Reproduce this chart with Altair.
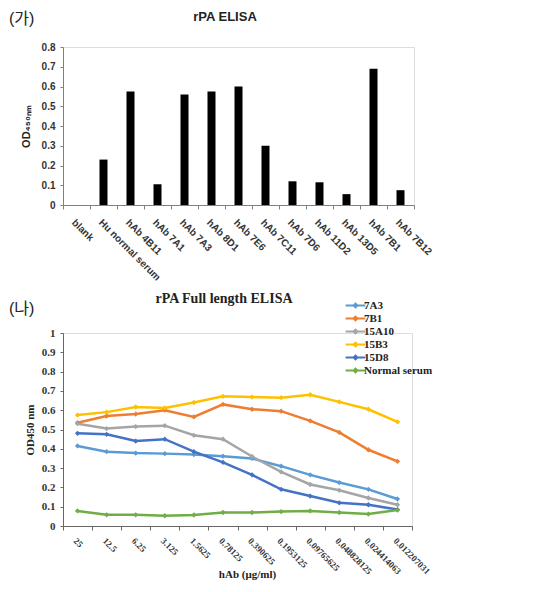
import altair as alt
import pandas as pd

# ---------------- data ----------------
bar_categories = ["blank", "Hu normal serum", "hAb 4B11", "hAb 7A1", "hAb 7A3", "hAb 8D1",
                  "hAb 7E6", "hAb 7C11", "hAb 7D6", "hAb 11D2", "hAb 13D5", "hAb 7B1", "hAb 7B12"]
bar_values = [0.0, 0.23, 0.575, 0.105, 0.56, 0.575, 0.60, 0.30, 0.12, 0.115, 0.055, 0.69, 0.075]

doses = ["25", "12.5", "6.25", "3.125", "1.5625", "0.78125", "0.390625", "0.1953125",
         "0.09765625", "0.048828125", "0.024414063", "0.012207031"]
series_names = ["7A3", "7B1", "15A10", "15B3", "15D8", "Normal serum"]
series_colors = ["#5B9BD5", "#ED7D31", "#A5A5A5", "#FFC000", "#4472C4", "#70AD47"]
s_7A3 = [0.415, 0.385, 0.378, 0.375, 0.37, 0.362, 0.35, 0.31, 0.265, 0.225, 0.19, 0.14]
s_7B1 = [0.535, 0.57, 0.58, 0.60, 0.565, 0.63, 0.605, 0.595, 0.545, 0.485, 0.395, 0.335]
s_15A10 = [0.53, 0.505, 0.515, 0.52, 0.47, 0.45, 0.36, 0.28, 0.215, 0.185, 0.145, 0.11]
s_15B3 = [0.575, 0.59, 0.617, 0.612, 0.64, 0.672, 0.668, 0.665, 0.68, 0.643, 0.605, 0.54]
s_15D8 = [0.48, 0.475, 0.44, 0.45, 0.385, 0.33, 0.265, 0.19, 0.155, 0.12, 0.11, 0.085]
s_normal = [0.078, 0.058, 0.058, 0.053, 0.057, 0.07, 0.07, 0.075, 0.078, 0.07, 0.062, 0.083]

y1_ticks = [0, 0.1, 0.2, 0.3, 0.4, 0.5, 0.6, 0.7, 0.8]
y2_ticks = [0, 0.1, 0.2, 0.3, 0.4, 0.5, 0.6, 0.7, 0.8, 0.9, 1.0]

df1 = pd.DataFrame({"cat": bar_categories, "val": bar_values})
rows = []
for name, vals in zip(series_names, [s_7A3, s_7B1, s_15A10, s_15B3, s_15D8, s_normal]):
    for d, v in zip(doses, vals):
        rows.append({"series": name, "dose": d, "od": v})
df2 = pd.DataFrame(rows)

SANS = "Liberation Sans"
SERIF = "Liberation Serif"
KR = "Liberation Sans, Noto Sans CJK KR"
TXT = "#222222"

# ---------------- top chart ----------------
W1, H1 = 351, 158
bars = alt.Chart(df1).mark_bar(color="black", size=8).encode(
    x=alt.X("cat:N", sort=bar_categories, title=None,
            scale=alt.Scale(type="band", paddingInner=0, paddingOuter=0),
            axis=alt.Axis(labelAngle=45, labelFont=SANS, labelFontWeight="bold", labelFontSize=10,
                          labelColor="#333333", tickBand="extent", tickSize=4, labelPadding=8,
                          domainColor="#808080", tickColor="#808080")),
    y=alt.Y("val:Q", scale=alt.Scale(domain=[0, 0.8]), title="OD₄₅₀ₙₘ",
            axis=alt.Axis(values=y1_ticks, format=".1~f", grid=False, labelFont=SANS,
                          labelFontWeight="bold", labelFontSize=10, labelColor="#333333",
                          tickSize=3, labelPadding=5, domainColor="#808080", tickColor="#808080",
                          titleFont=SANS, titleFontWeight="bold", titleFontSize=11,
                          titleColor=TXT, titlePadding=10)),
)
lab1 = alt.Chart(pd.DataFrame({"t": ["(가)"]})).mark_text(
    align="left", baseline="top", font=KR, fontSize=16, color=TXT
).encode(text="t:N", x=alt.value(-54), y=alt.value(-36))
title1 = alt.Chart(pd.DataFrame({"t": ["rPA ELISA"]})).mark_text(
    align="center", baseline="alphabetic", font=SANS, fontWeight="bold", fontSize=13, color=TXT
).encode(text="t:N", x=alt.value(162), y=alt.value(-26))
top = alt.layer(bars, lab1, title1).properties(width=W1, height=H1)

# ---------------- bottom chart ----------------
W2, H2 = 349, 193
lines = alt.Chart(df2).mark_line(
    strokeWidth=2.5, point=alt.OverlayMarkDef(filled=True, size=28, shape="diamond")
).encode(
    x=alt.X("dose:N", sort=doses, title="hAb (μg/ml)",
            scale=alt.Scale(type="band", paddingInner=0, paddingOuter=0),
            axis=alt.Axis(labelAngle=45, labelFont=SERIF, labelFontWeight="bold", labelFontSize=9,
                          labelColor="#333333", tickBand="extent", tickSize=4, labelPadding=6,
                          domainColor="#666666", tickColor="#666666",
                          titleFont=SERIF, titleFontWeight="bold", titleFontSize=11,
                          titleColor=TXT, titleX=184, titleY=42, titleBaseline="top")),
    y=alt.Y("od:Q", scale=alt.Scale(domain=[0, 1]), title="OD450 nm",
            axis=alt.Axis(values=y2_ticks, format=".1~f", grid=False, labelFont=SERIF,
                          labelFontWeight="bold", labelFontSize=11, labelColor="#333333",
                          tickSize=3, labelPadding=5, domainColor="#666666", tickColor="#666666",
                          titleFont=SERIF, titleFontWeight="bold", titleFontSize=11,
                          titleColor=TXT, titlePadding=6)),
    color=alt.Color("series:N", sort=series_names,
                    scale=alt.Scale(domain=series_names, range=series_colors),
                    legend=alt.Legend(title=None, orient="none", legendX=286, legendY=-34,
                                      symbolType="M-1.8,0H1.8M-0.35,0L0,-0.35L0.35,0L0,0.35Z",
                                      symbolSize=121, symbolStrokeWidth=2, rowPadding=0,
                                      labelFont=SERIF, labelFontWeight="bold", labelFontSize=11,
                                      labelColor=TXT, labelOffset=2)),
)
lab2 = alt.Chart(pd.DataFrame({"t": ["(나)"]})).mark_text(
    align="left", baseline="top", font=KR, fontSize=16, color=TXT
).encode(text="t:N", x=alt.value(-54), y=alt.value(-32))
title2 = alt.Chart(pd.DataFrame({"t": ["rPA Full length ELISA"]})).mark_text(
    align="center", baseline="alphabetic", font=SERIF, fontWeight="bold", fontSize=14, color=TXT
).encode(text="t:N", x=alt.value(161), y=alt.value(-30))
bottom = alt.layer(lines, lab2, title2).properties(width=W2, height=H2)

chart = alt.vconcat(top, bottom, spacing=8).resolve_legend(color="independent").properties(
    padding={"left": 0, "top": 2, "right": 0, "bottom": 0}
).configure_view(stroke=None).configure(background="white")

chart.save("out.html", embed_options={"renderer": "svg", "actions": False})
